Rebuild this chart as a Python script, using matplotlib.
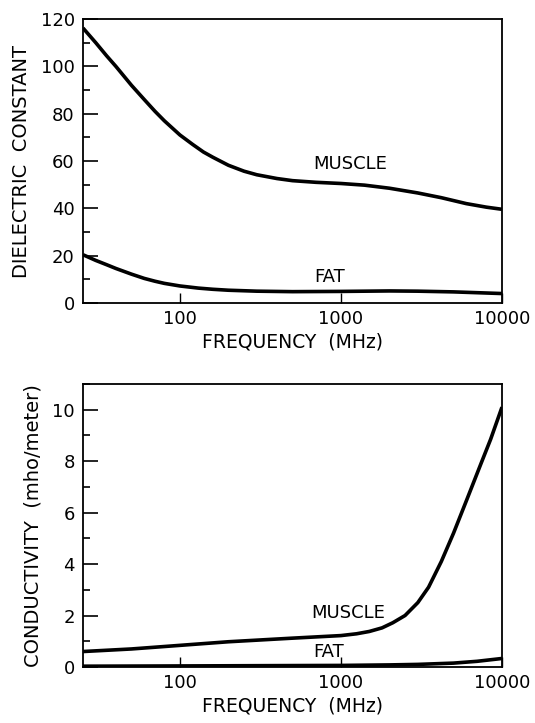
import matplotlib
matplotlib.use('Agg')
import matplotlib.pyplot as plt
from matplotlib.ticker import FixedLocator, MultipleLocator, NullLocator

# dielectric constant vs frequency (MHz)
f_eps_muscle = [25, 30, 35, 40, 50, 60, 70, 80, 100, 120, 140, 160, 200, 250, 300,
                400, 500, 700, 1000, 1400, 2000, 3000, 4200, 6000, 8000, 10000]
eps_muscle = [116.2, 110, 104.5, 100, 92, 86, 81, 77, 71, 67, 63.8, 61.6, 58.2, 55.7,
              54.2, 52.6, 51.7, 51, 50.5, 49.8, 48.5, 46.5, 44.5, 42, 40.5, 39.6]

f_eps_fat = [25, 30, 35, 40, 50, 60, 70, 80, 100, 130, 160, 200, 300, 500, 1000,
             2000, 3000, 5000, 10000]
eps_fat = [20.4, 18, 16.2, 14.6, 12.2, 10.4, 9.2, 8.3, 7.2, 6.3, 5.8, 5.4, 5.0, 4.8,
           4.9, 5.1, 5.0, 4.7, 4.0]

# conductivity vs frequency (MHz)
f_sig_muscle = [25, 50, 100, 200, 500, 1000, 1250, 1500, 1800, 2100, 2500, 3000,
                3500, 4200, 5000, 6000, 7400, 8500, 10000]
sig_muscle = [0.60, 0.70, 0.84, 0.98, 1.12, 1.22, 1.29, 1.38, 1.52, 1.72, 2.0, 2.5,
              3.1, 4.1, 5.2, 6.45, 7.9, 8.85, 10.1]

f_sig_fat = [25, 100, 300, 1000, 2000, 3000, 5000, 7000, 10000]
sig_fat = [0.03, 0.04, 0.05, 0.06, 0.08, 0.1, 0.15, 0.22, 0.33]

xticks = [100, 1000, 10000]
xticklabels = ['100', '1000', '10000']

plt.rcParams['font.family'] = ['DejaVu Sans']

fig = plt.figure(figsize=[5.35, 7.23], dpi=100)
ax1 = fig.add_axes([0.1551, 0.5809, 0.7832, 0.3928])
ax2 = fig.add_axes([0.1551, 0.0775, 0.7832, 0.3914])


def style_axis(ax, ymax, major, minor, ylabel):
    ax.set_xscale('log')
    ax.set_xlim(25, 10000)
    ax.set_ylim(0, ymax)
    ax.xaxis.set_major_locator(FixedLocator(xticks))
    ax.set_xticklabels(xticklabels)
    ax.xaxis.set_minor_locator(NullLocator())
    ax.yaxis.set_major_locator(MultipleLocator(major))
    ax.yaxis.set_minor_locator(MultipleLocator(minor))
    ax.tick_params(axis='x', which='major', direction='in', length=7, width=1,
                   labelsize=13, pad=5)
    ax.tick_params(axis='y', which='major', direction='in', length=10.8, width=1.2,
                   labelsize=13, pad=6)
    ax.tick_params(axis='y', which='minor', direction='in', length=5, width=1.2)
    for s in ax.spines.values():
        s.set_linewidth(1.3)
    ax.set_xlabel('FREQUENCY  (MHz)', fontsize=13.5, labelpad=3)
    ax.set_ylabel(ylabel, fontsize=14, labelpad=7)


style_axis(ax1, 120, 20, 10, 'DIELECTRIC  CONSTANT')
ax1.plot(f_eps_muscle, eps_muscle, color='black', lw=2.6, solid_capstyle='butt')
ax1.plot(f_eps_fat, eps_fat, color='black', lw=2.6, solid_capstyle='butt')
ax1.text(670, 58.7, 'MUSCLE', fontsize=13, va='center', ha='left')
ax1.text(680, 11, 'FAT', fontsize=13, va='center', ha='left')

style_axis(ax2, 11, 2, 1, 'CONDUCTIVITY  (mho/meter)')
ax2.plot(f_sig_muscle, sig_muscle, color='black', lw=2.6, solid_capstyle='butt')
ax2.plot(f_sig_fat, sig_fat, color='black', lw=2.6, solid_capstyle='butt')
ax2.text(650, 2.1, 'MUSCLE', fontsize=13, va='center', ha='left')
ax2.text(670, 0.6, 'FAT', fontsize=13, va='center', ha='left')

plt.savefig('out.png', dpi=100)
plt.close(fig)
